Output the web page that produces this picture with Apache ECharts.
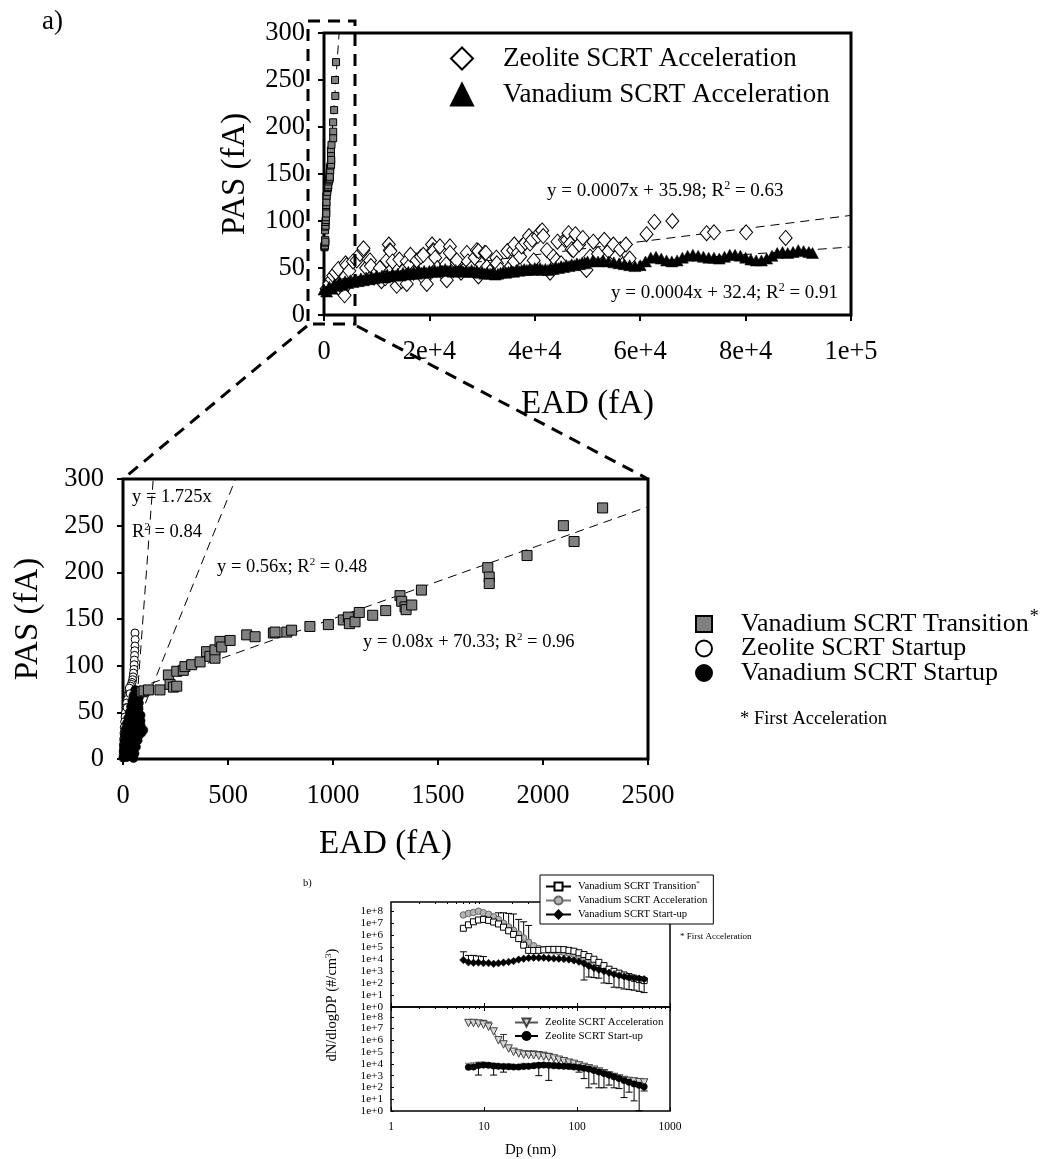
<!DOCTYPE html>
<html><head><meta charset="utf-8">
<script src="https://cdn.jsdelivr.net/npm/echarts@6/dist/echarts.min.js"></script>
<style>html,body{margin:0;padding:0;background:#fff}#c{width:1047px;height:1159px}</style>
</head><body><div id="c"></div>
<script>
// ---------------- DATA: panel a (upper chart) ----------------
const zeoAccelPts = [
[500,28],[1000,33],[1500,38],[1770,42],[2200,45],[2720,49],[3400,25],[3700,28],[3900,21],[4100,55],[4300,53],[4800,47],[5500,57],[6200,58],[6830,65],[7460,69],[7500,71],[8000,50],[8730,58],[8900,52],[9500,40],[10000,45],
[10600,50],[10900,36],[11600,39],[11900,58],[12300,75],[12500,69],[12600,68],[13000,57],[13800,31],[14300,59],[14700,36],[15200,48],[15700,57],[15700,33],[16300,53],[16400,64],[17000,45],[17600,58],[18400,62],[18850,64],[19100,38],[19500,33],
[20500,75],[20700,69],[20800,68],[21100,61],[21500,50],[22000,73],[22500,45],[23200,54],[23300,37],[23900,73],[23900,66],[24500,48],[25200,55],[25200,58],[26000,45],[27100,66],[27300,57],[28000,50],[28600,61],[29000,69],[29300,68],[29300,41],
[30500,66],[30700,66],[30900,51],[31500,46],[32700,61],[32800,55],[33500,48],[34800,68],[35500,52],[35900,69],[36100,75],[36100,57],[36800,66],[37200,62],[37500,73],[38200,77],[38900,84],[39100,76],[39500,80],[39800,58],
[40600,84],[41000,88],[41400,90],[41600,84],[42300,69],[42900,45],[43500,62],[44100,58],[44300,78],[45000,55],[45700,80],[46100,80],[46400,87],[46700,76],[47000,70],[47300,69],[47700,86],[48400,75],[49100,82],[49800,48],
[50500,62],[51100,78],[52000,65],[53200,80],[54000,68],[54900,75],[55500,62],[56200,70],[57300,75],[58000,60],
[61200,86],[62700,99],[66100,100],[72600,87],[74000,88],[80100,88],[87600,82]
];
const vanAccelPts = [
[0,27],[500,25],[1000,30],[1500,28],[2000,33],[2500,31],[3000,35],[3500,32],[4000,36],[4500,34],[5000,37],[5500,35],[6000,38],[6500,36],[7000,39],[7500,37],[8000,40],[8500,38],[9000,41],[9500,39],[10000,42],[10500,40],[11000,42],[11500,40],[12000,43],[12500,41],[13000,44],[13500,42],[14000,44],[14500,42],[15000,45],[15500,43],[16000,46],[16500,44],[17000,46],[17500,44],[18000,47],[18500,45],[19000,47],[19500,45],[20000,47],[20500,46],[21000,48],[21500,46],[22000,48],[22500,47],[23000,49],[23500,47],[24000,48],[24500,46],[25000,48],[25500,47],[26000,48],[26500,46],[27000,47],[27500,46],[28000,48],[28500,46],[29000,47],[29500,45],[30000,46],[30500,44],[31000,45],[31500,44],[32000,45],[32500,43],[33000,44],[33500,45],[34000,46],[34500,45],[35000,46],[35500,47],[36000,46],[36500,48],[37000,47],[37500,48],[38000,49],[38500,48],[39000,49],[39500,48],[40000,50],[40500,49],[41000,50],[41500,48],[42000,49],[42500,48],[43000,50],[43500,49],[44000,51],[44500,50],[45000,52],[45500,51],[46000,53],[46500,52],[47000,54],[47500,53],[48000,55],[48500,54],[49000,56],[49500,55],[50000,57],[51000,58],[52000,57],[53000,58],[54000,57],[55000,56],[56000,55],[57000,54],[58000,53],[59000,52],[60000,53],[61000,57],[62000,61],[63000,62],[64000,60],[65000,58],[66000,57],[67000,58],[68000,61],[69000,63],[70000,64],[71000,63],[72000,62],[73000,61],[74000,61],[75000,60],[76000,62],[77000,64],[78000,64],[79000,63],[80000,61],[81000,59],[82000,58],[83000,58],[84000,60],[85000,63],[86000,66],[87000,67],[88000,66],[89000,67],[90000,69],[91000,68],[92000,67],[92700,66]
];
const transitionPts = [
[90,72],[100,73],[121,74],[176,74],[216,90],[224,80],[240,77],[256,78],[256,94],[287,95],[295,99],[327,101],[367,104],[398,115],[414,110],[438,108],[438,117],[462,126],[470,120],[510,127],[589,133],[629,131],[716,135],[724,136],[780,136],[803,138],[890,142],[978,144],[1049,149],[1073,152],[1078,145],[1105,147],[1125,157],[1189,154],[1251,159],[1319,175],[1327,169],[1343,163],[1348,160],[1375,165],[1421,181],[1737,205],[1744,195],[1744,188],[1924,218],[2097,250],[2148,233],[2284,269]
];
const zeoStartPts = [
[57,135],[58,128],[57,121],[56,116],[55,111],[54,106],[53,101],[52,96],[50,92],[48,88],[46,85],[43,82],[40,80],[36,78],[30,72],[26,68],[22,64],[18,60],[15,55],[12,50],[10,45],[8,40],[6,34],[5,28],[4,22],[3,16],[2,10],[1,5],[1,1],[30,76],[34,70],[20,55]
];
const vanStartPts = [
[58,74],[70,73],[50,68],[66,68],[76,66],[44,62],[60,62],[76,60],[38,56],[56,56],[74,55],[32,50],[52,50],[72,49],[84,47],[25,44],[45,44],[65,43],[84,41],[18,38],[40,38],[62,38],[84,36],[12,32],[34,32],[56,32],[78,31],[97,31],[8,26],[30,26],[52,26],[74,25],[88,28],[6,20],[28,20],[50,20],[70,20],[4,14],[26,14],[46,14],[62,13],[3,8],[22,8],[42,8],[55,6],[2,2],[18,2],[38,3],[50,1]
];
const trendZeoAccel = [[0,35.98],[100000,105.98]];
const trendVanAccel = [[0,32.4],[100000,72.4]];
const trendTransition = [[0,70.33],[2871,300]];
const trendZeoStart = [[46,0],[144,300]];
const trendVanStart = [[0,0],[536,300]];

// ---------------- DATA: panel b (size distributions, log10 of dN/dlogDp) ----------------
const dpBins = [6.00,6.80,7.70,8.71,9.87,11.2,12.7,14.3,16.2,18.4,20.8,23.6,26.7,30.2,34.2,38.8,43.9,49.7,56.3,63.8,72.2,81.8,92.6,105,119,134,152,172,195,221,250,283,321,363,411,466,527];
const vanTransLog = [6.56,6.85,7.10,7.25,7.30,7.22,7.08,6.92,6.65,6.35,6.05,5.70,5.15,4.72,4.70,4.72,4.76,4.80,4.80,4.80,4.78,4.72,4.65,4.52,4.37,4.20,3.98,3.72,3.45,3.15,2.97,2.82,2.67,2.53,2.40,2.28,2.20];
const vanAccelLog = [7.67,7.80,7.88,7.98,7.85,7.72,7.52,7.30,6.98,6.68,6.38,6.08,5.75,5.40,5.10,4.88,4.78,4.72,4.68,4.62,4.55,4.48,4.38,4.25,4.10,3.90,3.68,3.45,3.22,3.02,2.86,2.72,2.60,2.48,2.38,2.30,2.25];
const vanStartLog = [3.92,3.72,3.68,3.70,3.66,3.66,3.60,3.65,3.70,3.76,3.83,3.95,4.03,4.08,4.10,4.10,4.10,4.07,4.05,4.02,4.00,3.95,3.88,3.78,3.62,3.42,3.25,3.10,2.97,2.85,2.73,2.63,2.55,2.48,2.42,2.37,2.32];
const zeoAccelLog = [null,7.47,7.47,7.42,7.33,7.15,6.75,6.00,5.65,5.30,5.02,4.88,4.78,4.75,4.73,4.69,4.62,4.56,4.46,4.35,4.22,4.10,4.00,3.87,3.74,3.62,3.50,3.35,3.20,3.02,2.89,2.76,2.63,2.55,2.50,2.45,2.42];
const zeoStartLog = [null,3.72,3.74,3.86,3.90,3.88,3.82,3.80,3.78,3.76,3.74,3.74,3.78,3.80,3.84,3.88,3.90,3.88,3.84,3.82,3.80,3.78,3.74,3.70,3.64,3.56,3.44,3.32,3.18,3.05,2.90,2.76,2.60,2.45,2.30,2.18,2.06];
// error bars: [bin index, log10 of bar end]
const vanTransErrUp = [[7,7.85],[8,7.85],[9,7.8],[10,7.75],[11,7.3],[12,7.1],[13,6.8]];
const vanStartErrUp = [[0,4.6],[1,4.3],[2,4.3],[3,4.25],[4,4.2]];
const vanAccelErrDown = [[24,2.25],[25,2.5],[26,2.45],[27,2.4],[28,2.0],[29,1.95],[30,1.65],[31,1.6],[32,1.5],[33,1.45],[34,1.4],[35,1.3],[36,1.2]];
const zeoAccelErrUp = [[1,7.75],[2,7.75],[3,7.7],[4,7.7],[5,7.55],[8,6.5],[12,5.1],[13,5.1],[14,5.1],[15,5.05],[16,5.0],[17,4.9]];
const zeoStartErrUp = [[1,4.05],[2,4.1],[3,4.15],[4,4.15],[5,4.1],[6,4.05],[9,4.0],[12,4.05],[15,4.1],[18,4.1],[21,4.0]];
const zeoStartErrDown = [[3,3.05],[6,3.05],[8,3.3],[15,3.0],[17,2.6],[23,3.3],[24,2.75],[25,1.97],[26,2.3],[27,1.97],[28,1.97],[29,2.2],[30,1.97],[31,1.9],[32,1.14],[33,1.6],[34,0.86],[35,0.02],[36,1.7]];

// tick values
const bXMajor = [1,10,100,1000];
const bXMinor = [2,3,4,5,6,7,8,9,20,30,40,50,60,70,80,90,200,300,400,500,600,700,800,900];
const bYMajor = [1,10,100,1e3,1e4,1e5,1e6,1e7,1e8];

const NAMES = {
  aZA:'Zeolite SCRT Acceleration', aVA:'Vanadium SCRT Acceleration',
  aVT:'Vanadium SCRT Transition', aZS:'Zeolite SCRT Startup', aVS:'Vanadium SCRT Startup',
  bVT:'Vanadium SCRT Transition', bVA:'Vanadium SCRT Acceleration', bVS:'Vanadium SCRT Start-up',
  bZA:'Zeolite SCRT Acceleration', bZS:'Zeolite SCRT Start-up'
};

// ---------------- build ----------------
const FONT = "'Liberation Serif','Times New Roman',Times,serif";
const pw = v => Math.pow(10, v);
const toSeries = arr => dpBins.map((d,i)=> arr[i]==null ? null : [d, pw(arr[i])]).filter(p=>p);
const toErr = (errs, base) => errs.map(([i,c]) => [dpBins[i], pw(base[i]), pw(c)]);
function sciLabel(v){ if (v===0) return '0'; const e=Math.floor(Math.log10(v)+1e-9); const m=Math.round(v/Math.pow(10,e)*100)/100; return m+'e+'+e; }
const plain = v => String(Math.round(v));
function errRender(color){
  return function(params, api){
    const x=api.value(0), a=api.value(1), b=api.value(2);
    const p=api.coord([x,a]), q=api.coord([x,b]);
    return {type:'group', children:[
      {type:'line', shape:{x1:p[0],y1:p[1],x2:q[0],y2:q[1]}, style:{stroke:color, lineWidth:1}},
      {type:'line', shape:{x1:q[0]-3.5,y1:q[1],x2:q[0]+3.5,y2:q[1]}, style:{stroke:color, lineWidth:1}}
    ]};
  };
}
const dashTrend = {type:[9,6], width:1, color:'#000'};
function trend(data, xi, yi){
  return {type:'line', xAxisIndex:xi, yAxisIndex:yi, data:data, showSymbol:false, symbol:'none', silent:true,
          lineStyle:dashTrend, z:1, clip:true, animation:false};
}
const bigAxisX = (gi, min, max, interval, fmt, nameGap) => ({
  gridIndex:gi, type:'value', min:min, max:max, interval:interval,
  axisLine:{show:false}, splitLine:{show:false},
  axisTick:{show:true, inside:false, length:6, lineStyle:{color:'#000', width:2}},
  axisLabel:{fontFamily:FONT, fontSize:26.5, color:'#000', margin:24, formatter:fmt},
  name:'EAD (fA)', nameLocation:'middle', nameGap:nameGap,
  nameTextStyle:{fontFamily:FONT, fontSize:33, color:'#000'}
});
const bigAxisY = (gi, nameGap) => ({
  gridIndex:gi, type:'value', min:0, max:300, interval:50,
  axisLine:{show:false}, splitLine:{show:false},
  axisTick:{show:true, inside:false, length:6, lineStyle:{color:'#000', width:2}},
  axisLabel:{fontFamily:FONT, fontSize:26.5, color:'#000', margin:19, formatter:plain},
  name:'PAS (fA)', nameLocation:'middle', nameGap:nameGap,
  nameTextStyle:{fontFamily:FONT, fontSize:33, color:'#000'}
});
const logX = (gi, opts) => Object.assign({
  gridIndex:gi, type:'log', logBase:10, min:1, max:1000,
  axisLine:{show:false}, splitLine:{show:false}, minorTick:{show:false},
  axisTick:{show:true, inside:true, length:4, lineStyle:{color:'#000', width:1}, customValues:bXMajor},
  axisLabel:{show:false}
}, opts);
const logY = (gi, maxExp) => ({
  gridIndex:gi, type:'log', logBase:10, min:1, max:Math.pow(10, maxExp),
  axisLine:{show:false}, splitLine:{show:false},
  axisTick:{show:true, inside:true, length:3, lineStyle:{color:'#000', width:1}, customValues:bYMajor},
  axisLabel:{fontFamily:FONT, fontSize:11.2, lineHeight:10, color:'#000', margin:8, customValues:bYMajor,
             showMinLabel:true, showMaxLabel:true, hideOverlap:false,
             formatter:v=>'1e+'+Math.round(Math.log10(v))}
});

const supRich = (size) => ({sup:{fontSize:size, fontFamily:FONT, color:'#000', verticalAlign:'top', lineHeight:size}});
function txt(x, y, text, size, extra){
  return {type:'text', x:x, y:y, z:120, silent:true,
    style:Object.assign({text:text, fontFamily:FONT, fontSize:size, fill:'#000', align:'left', verticalAlign:'middle',
      lineHeight:Math.round(size*1.15), rich:supRich(Math.round(size*0.62))}, extra||{})};
}
const dashStyle = {stroke:'#000', lineWidth:3, lineDash:[12,8], fill:null};
const solidScatter = (c, bc, bw) => ({color:c, borderColor:bc, borderWidth:bw, opacity:1});

const option = {
  backgroundColor:'#fff',
  animation:false,
  grid:[
    {left:324, top:33, width:527, height:282, show:true, borderColor:'#000', borderWidth:3, backgroundColor:'transparent'},
    {left:123, top:479, width:525, height:280, show:true, borderColor:'#000', borderWidth:3, backgroundColor:'transparent'},
    {left:391, top:902, width:279, height:105, show:true, borderColor:'#000', borderWidth:1.5, backgroundColor:'transparent'},
    {left:391, top:1007, width:279, height:106, show:true, borderColor:'#000', borderWidth:1.5, backgroundColor:'transparent'}
  ],
  xAxis:[
    bigAxisX(0, 0, 100000, 20000, sciLabel, 73),
    bigAxisX(1, 0, 2500, 500, plain, 69),
    logX(2, {}),
    logX(3, {axisLabel:{show:true, fontFamily:FONT, fontSize:11.5, color:'#000', margin:10, customValues:bXMajor, formatter:plain,
                        showMinLabel:true, showMaxLabel:true},
             name:'Dp (nm)', nameLocation:'middle', nameGap:32, nameTextStyle:{fontFamily:FONT, fontSize:15, color:'#000'}}),
    logX(2, {axisTick:{show:true, inside:true, length:2, lineStyle:{color:'#000', width:1}, customValues:bXMinor}}),
    logX(3, {axisTick:{show:true, inside:true, length:2, lineStyle:{color:'#000', width:1}, customValues:bXMinor}}),
    logX(3, {position:'top'}),
    logX(3, {position:'top', axisTick:{show:true, inside:true, length:2, lineStyle:{color:'#000', width:1}, customValues:bXMinor}})
  ],
  yAxis:[ bigAxisY(0, 72), bigAxisY(1, 78), logY(2, 8.75), logY(3, 8.83) ],
  legend:[
    {data:['aZA','aVA'], orient:'vertical', left:450, top:45, padding:0, itemWidth:22, itemHeight:22, itemGap:9,
     selectedMode:false, formatter:n=>NAMES[n],
     textStyle:{fontFamily:FONT, fontSize:27, color:'#000', padding:[0,0,0,25]}},
    {data:['aVT','aZS','aVS'], orient:'vertical', left:695, top:608, padding:0, itemWidth:16, itemHeight:16, itemGap:-1.5,
     selectedMode:false, formatter:n=> NAMES[n] + (n==='aVT' ? '{sup|*}' : ''),
     textStyle:{fontFamily:FONT, fontSize:26, color:'#000', padding:[0,0,0,24],
                rich:{sup:{fontSize:18, fontFamily:FONT, color:'#000', padding:[0,0,14,1]}}}},
    {data:['bVT','bVA','bVS'], orient:'vertical', left:540, top:875, padding:[5,6,4,5], itemWidth:25, itemHeight:10, itemGap:3,
     backgroundColor:'#fff', borderColor:'#000', borderWidth:1, selectedMode:false,
     formatter:n=> NAMES[n] + (n==='bVT' ? '{sup|*}' : ''),
     textStyle:{fontFamily:FONT, fontSize:10.7, color:'#000', lineHeight:10, padding:[0,0,0,2],
                rich:{sup:{fontSize:7, fontFamily:FONT, color:'#000', padding:[0,0,6,0]}}}},
    {data:['bZA','bZS'], orient:'vertical', left:514, top:1017, padding:0, itemWidth:23, itemHeight:10, itemGap:2.5,
     selectedMode:false, formatter:n=>NAMES[n],
     textStyle:{fontFamily:FONT, fontSize:10.9, color:'#000', lineHeight:10, padding:[0,0,0,2]}}
  ],
  series:[
    // ---- panel a, upper chart
    trend(trendZeoAccel,0,0), trend(trendVanAccel,0,0), trend(trendTransition,0,0),
    {name:'aZA', type:'scatter', xAxisIndex:0, yAxisIndex:0, data:zeoAccelPts, symbol:'diamond', symbolSize:[13,15],
     itemStyle:solidScatter('#fff','#000',1), z:3},
    {name:'aVA', type:'scatter', xAxisIndex:0, yAxisIndex:0, data:vanAccelPts, symbol:'triangle', symbolSize:[12,11],
     itemStyle:solidScatter('#000','#000',0.5), z:4},
    {name:'aVT', type:'scatter', xAxisIndex:0, yAxisIndex:0, data:transitionPts, symbol:'rect', symbolSize:7,
     itemStyle:solidScatter('#808080','#000',1), z:5},
    // ---- panel a, zoomed chart
    trend(trendZeoStart,1,1), trend(trendVanStart,1,1), trend(trendTransition,1,1),
    {name:'aZS', type:'scatter', xAxisIndex:1, yAxisIndex:1, data:zeoStartPts, symbol:'circle', symbolSize:8,
     itemStyle:solidScatter('#fff','#000',1), z:3},
    {name:'aVS', type:'scatter', xAxisIndex:1, yAxisIndex:1, data:vanStartPts, symbol:'circle', symbolSize:9,
     itemStyle:solidScatter('#000','#000',0.5), z:4},
    {name:'aVT', type:'scatter', xAxisIndex:1, yAxisIndex:1, data:transitionPts, symbol:'rect', symbolSize:10,
     itemStyle:solidScatter('#808080','#000',1), z:5},
    // ---- panel b, top
    {type:'custom', xAxisIndex:2, yAxisIndex:2, renderItem:errRender('#000'), data:toErr(vanTransErrUp, vanTransLog), encode:{x:0,y:[1,2]}, silent:true, z:1},
    {type:'custom', xAxisIndex:2, yAxisIndex:2, renderItem:errRender('#000'), data:toErr(vanStartErrUp, vanStartLog), encode:{x:0,y:[1,2]}, silent:true, z:1},
    {type:'custom', xAxisIndex:2, yAxisIndex:2, renderItem:errRender('#000'), data:toErr(vanAccelErrDown, vanAccelLog), encode:{x:0,y:[1,2]}, silent:true, z:1},
    {name:'bVA', type:'line', xAxisIndex:2, yAxisIndex:2, data:toSeries(vanAccelLog), symbol:'circle', symbolSize:6.5,
     lineStyle:{color:'#777', width:1}, itemStyle:{color:'#b4b4b4', borderColor:'#666', borderWidth:1}, z:3},
    {name:'bVT', type:'line', xAxisIndex:2, yAxisIndex:2, data:toSeries(vanTransLog), symbol:'rect', symbolSize:6,
     lineStyle:{color:'#000', width:1}, itemStyle:{color:'#fff', borderColor:'#000', borderWidth:1}, z:4},
    {name:'bVS', type:'line', xAxisIndex:2, yAxisIndex:2, data:toSeries(vanStartLog), symbol:'diamond', symbolSize:7.5,
     lineStyle:{color:'#000', width:1}, itemStyle:{color:'#000', borderColor:'#000', borderWidth:0.5}, z:5},
    // ---- panel b, bottom
    {type:'custom', xAxisIndex:3, yAxisIndex:3, renderItem:errRender('#333'), data:toErr(zeoAccelErrUp, zeoAccelLog), encode:{x:0,y:[1,2]}, silent:true, z:1},
    {type:'custom', xAxisIndex:3, yAxisIndex:3, renderItem:errRender('#777'), data:toErr(zeoStartErrUp, zeoStartLog), encode:{x:0,y:[1,2]}, silent:true, z:1},
    {type:'custom', xAxisIndex:3, yAxisIndex:3, renderItem:errRender('#000'), data:toErr(zeoStartErrDown, zeoStartLog), encode:{x:0,y:[1,2]}, silent:true, z:1},
    {name:'bZA', type:'line', xAxisIndex:3, yAxisIndex:3, data:toSeries(zeoAccelLog), symbol:'triangle', symbolRotate:180, symbolSize:7.5,
     lineStyle:{color:'#555', width:1}, itemStyle:{color:'#d6d6d6', borderColor:'#444', borderWidth:1}, z:3},
    {name:'bZS', type:'line', xAxisIndex:3, yAxisIndex:3, data:toSeries(zeoStartLog), symbol:'circle', symbolSize:6.5,
     lineStyle:{color:'#000', width:1}, itemStyle:{color:'#000', borderColor:'#000', borderWidth:0.5}, z:4}
  ],
  graphic:[
    {type:'rect', z:110, silent:true, shape:{x:308, y:21, width:47, height:303}, style:dashStyle},
    {type:'line', z:110, silent:true, shape:{x1:307, y1:326, x2:123, y2:479}, style:dashStyle},
    {type:'line', z:110, silent:true, shape:{x1:357, y1:326, x2:648, y2:479}, style:dashStyle},
    txt(42, 22, 'a)', 27),
    txt(547, 191, 'y = 0.0007x + 35.98; R{sup|2} = 0.63', 19),
    txt(611, 293, 'y = 0.0004x + 32.4; R{sup|2} = 0.91', 19),
    txt(132, 497, 'y = 1.725x', 18.5),
    txt(132, 532, 'R{sup|2} = 0.84', 18.5),
    txt(217, 567, 'y = 0.56x; R{sup|2} = 0.48', 18.5),
    txt(363, 642, 'y = 0.08x + 70.33; R{sup|2} = 0.96', 18.5),
    txt(740, 719, '* First Acceleration', 18.5),
    txt(303, 883, 'b)', 10.5),
    txt(680, 937, '* First Acceleration', 9),
    {type:'text', z:120, silent:true, x:332, y:1005, rotation:Math.PI/2,
     style:{text:'dN/dlogDP (#/cm{sup|3})', fontFamily:FONT, fontSize:14.5, fill:'#000', align:'center', verticalAlign:'middle',
            lineHeight:16, rich:supRich(9)}}
  ]
};
const chart = echarts.init(document.getElementById('c'));
chart.setOption(option);
</script>
</body></html>
